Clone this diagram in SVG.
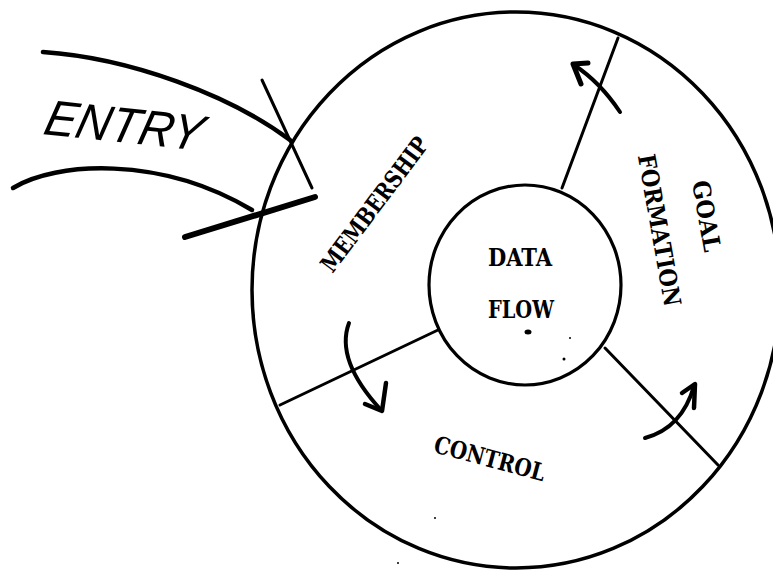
<svg xmlns="http://www.w3.org/2000/svg" width="773" height="570" viewBox="0 0 773 570">
<style>
.ink{fill:none;stroke:#000;stroke-linecap:round;stroke-linejoin:round}
.tw{font-family:"DejaVu Serif Condensed","DejaVu Serif",serif;font-weight:bold;font-size:24px;fill:#000;text-anchor:middle}
.hand{font-family:"Liberation Sans","DejaVu Sans",sans-serif;font-style:italic;font-size:50px;fill:#000}
</style>
<rect width="773" height="570" fill="#fff"/>
<g id="ring">
<ellipse class="ink" cx="516" cy="290" rx="264" ry="278" stroke-width="3.5"/>
<line class="ink" x1="562" y1="188" x2="618" y2="38" stroke-width="3"/>
<line class="ink" x1="605" y1="348" x2="718" y2="465" stroke-width="3"/>
<line class="ink" x1="438" y1="330" x2="280" y2="405" stroke-width="3"/>
</g>
<g id="data-flow">
<ellipse class="ink" cx="525" cy="285" rx="96" ry="100" stroke-width="3.2"/>
<text class="tw" x="520" y="266" textLength="64" lengthAdjust="spacingAndGlyphs">DATA</text>
<text class="tw" x="521" y="318" textLength="66" lengthAdjust="spacingAndGlyphs">FLOW</text>
</g>
<g id="membership">
<text class="tw" transform="translate(374,204) rotate(-53)" x="0" y="9" textLength="162" lengthAdjust="spacingAndGlyphs">MEMBERSHIP</text>
</g>
<g id="goal-formation">
<text class="tw" transform="translate(707,216) rotate(80)" x="0" y="9" textLength="72" lengthAdjust="spacingAndGlyphs">GOAL</text>
<text class="tw" transform="translate(660,230) rotate(80)" x="0" y="9" textLength="154" lengthAdjust="spacingAndGlyphs">FORMATION</text>
</g>
<g id="control">
<text class="tw" transform="translate(490,458) rotate(15)" x="0" y="9" textLength="114" lengthAdjust="spacingAndGlyphs">CONTROL</text>
</g>
<g id="entry">
<path class="ink" d="M43,52 C130,58 230,95 290,140" stroke-width="4.5"/>
<path class="ink" d="M13,188 C55,162 160,155 252,210" stroke-width="4.5"/>
<line class="ink" x1="262" y1="80" x2="312" y2="188" stroke-width="3"/>
<line class="ink" x1="185" y1="237" x2="315" y2="197" stroke-width="6"/>
<text class="hand" transform="translate(42,134) rotate(6) skewX(-8)" textLength="158" lengthAdjust="spacingAndGlyphs">ENTRY</text>
</g>
<g id="connectors">
<path class="ink" d="M620,112 Q600,82 574,65" stroke-width="4"/>
<polyline class="ink" points="588,63 573,64 581,84" stroke-width="5"/>
<path class="ink" d="M645,438 Q682,428 694,386" stroke-width="4"/>
<polyline class="ink" points="682,393 695,384 694,408" stroke-width="4.5"/>
<path class="ink" d="M349,323 Q335,360 381,410" stroke-width="4"/>
<polyline class="ink" points="365,404 382,411 386,383" stroke-width="4.5"/>
</g>
<g id="specks" fill="#000">
<ellipse cx="528" cy="332" rx="3.5" ry="2.5"/>
<circle cx="564" cy="359" r="1.5"/>
<circle cx="570" cy="338" r="1"/>
<circle cx="435" cy="518" r="1"/>
<circle cx="398" cy="563" r="1"/>
</g>
</svg>
